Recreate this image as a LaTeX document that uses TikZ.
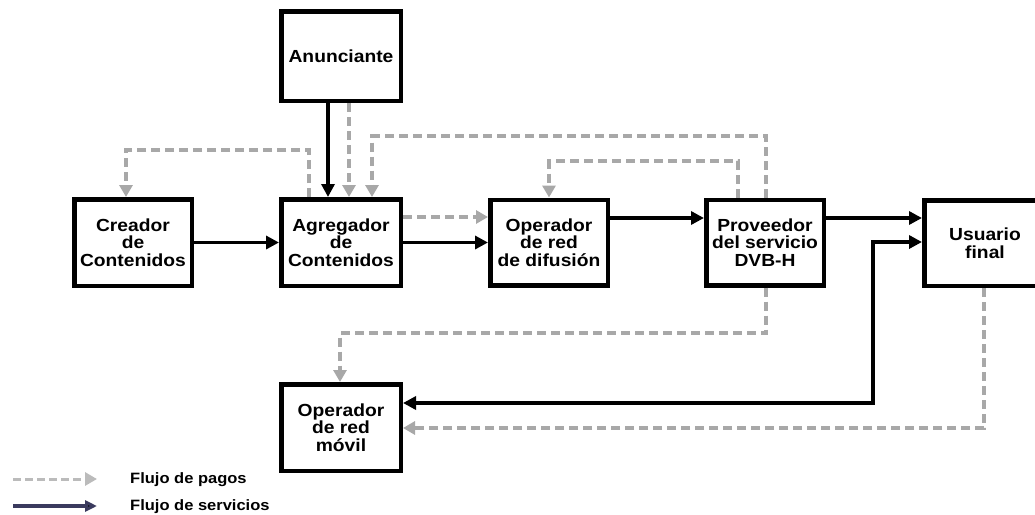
\documentclass[tikz,border=0pt]{standalone}
\usepackage{fontspec}
\setmainfont{Liberation Sans}[FakeStretch=1.1]
\usetikzlibrary{arrows.meta}
\definecolor{paygray}{HTML}{A8A8A8}
\definecolor{paylegend}{HTML}{BBBBBB}
\definecolor{servnavy}{HTML}{3A3A5E}
\tikzset{
  box/.style={draw=black, line width=4.5pt, fill=white, align=center, inner sep=0pt,
    font=\fontsize{17.5}{17.5}\selectfont\bfseries},
  serv/.style={draw=black, line width=3.8pt, -{Triangle[length=13pt,width=13pt]}},
  pay/.style={draw=paygray, line width=4pt, dash pattern=on 9pt off 5pt,
    -{Triangle[length=12pt,width=13pt]}},
  legtext/.style={anchor=base west, inner sep=0pt, font=\fontsize{15}{15}\selectfont\bfseries}
}
\begin{document}
\begin{tikzpicture}[x=1pt,y=-1pt]
\useasboundingbox[fill=white] (0,0) rectangle (1035,514);
% boxes
\node[box, minimum width=119.5pt, minimum height=89.5pt] (anun) at (341,56) {Anunciante};
\node[box, minimum width=117.5pt, minimum height=86.5pt] (crea) at (133,242.5) {Creador\\de\\Contenidos};
\node[box, minimum width=119.5pt, minimum height=86.5pt] (agre) at (341,242.5) {Agregador\\de\\Contenidos};
\node[box, minimum width=117.5pt, minimum height=85.5pt] (opdif) at (549,242.5) {Operador\\de red\\de difusión};
\node[box, minimum width=117.5pt, minimum height=85.5pt] (prov) at (765,242.5) {Proveedor\\del servicio\\DVB-H};
\node[box, minimum width=121.5pt, minimum height=85.5pt] (usu) at (985,243) {Usuario\\final};
\node[box, minimum width=119.5pt, minimum height=86.5pt] (movil) at (341,427.5) {Operador\\de red\\móvil};
% service flows
\draw[serv] ([xshift=-13pt]anun.south) -- ([xshift=-13pt]agre.north);
\draw[serv] (crea.east) -- (agre.west);
\draw[serv] (agre.east) -- (opdif.west);
\draw[serv] ([yshift=24.5pt]opdif.east) -- ([yshift=24.5pt]prov.west);
\draw[serv] ([yshift=24.5pt]prov.east) -- ([yshift=25pt]usu.west);
\draw[serv, {Triangle[length=13pt,width=13pt]}-{Triangle[length=13pt,width=13pt]}]
  ([yshift=24.5pt]movil.east) -| (873,242) -- ([yshift=1pt]usu.west);
% payment flows
\draw[pay] ([xshift=8pt]anun.south) -- ([xshift=8pt]agre.north);
\draw[pay] ([xshift=-32pt]agre.north) |- (126,150) -- ([xshift=-7pt]crea.north);
\draw[pay] ([xshift=1pt]prov.north) |- (372,136) -- ([xshift=31pt]agre.north);
\draw[pay] ([xshift=-27pt]prov.north) |- (549,161) -- (opdif.north);
\draw[pay] ([yshift=25.5pt]agre.east) -- ([yshift=25.5pt]opdif.west);
\draw[pay] ([xshift=1pt]prov.south) |- (340,333) -- ([xshift=-1pt]movil.north);
\draw[pay] ([xshift=-1pt]usu.south) |- ([yshift=-0.5pt]movil.east);
% legend
\coordinate (lp1) at (13,479);
\coordinate (lp2) at (97,479);
\coordinate (ls1) at (13,506);
\coordinate (ls2) at (97,506);
\draw[pay, draw=paylegend, line width=3pt, dash pattern=on 8pt off 4pt] (lp1) -- (lp2);
\draw[serv, draw=servnavy, line width=3.5pt, -{Triangle[length=12pt,width=11pt,fill=black]}] (ls1) -- (ls2);
\node[legtext] (lpt) at (130,483.5) {Flujo de pagos};
\node[legtext] (lst) at (130,510.5) {Flujo de servicios};
\end{tikzpicture}
\end{document}
